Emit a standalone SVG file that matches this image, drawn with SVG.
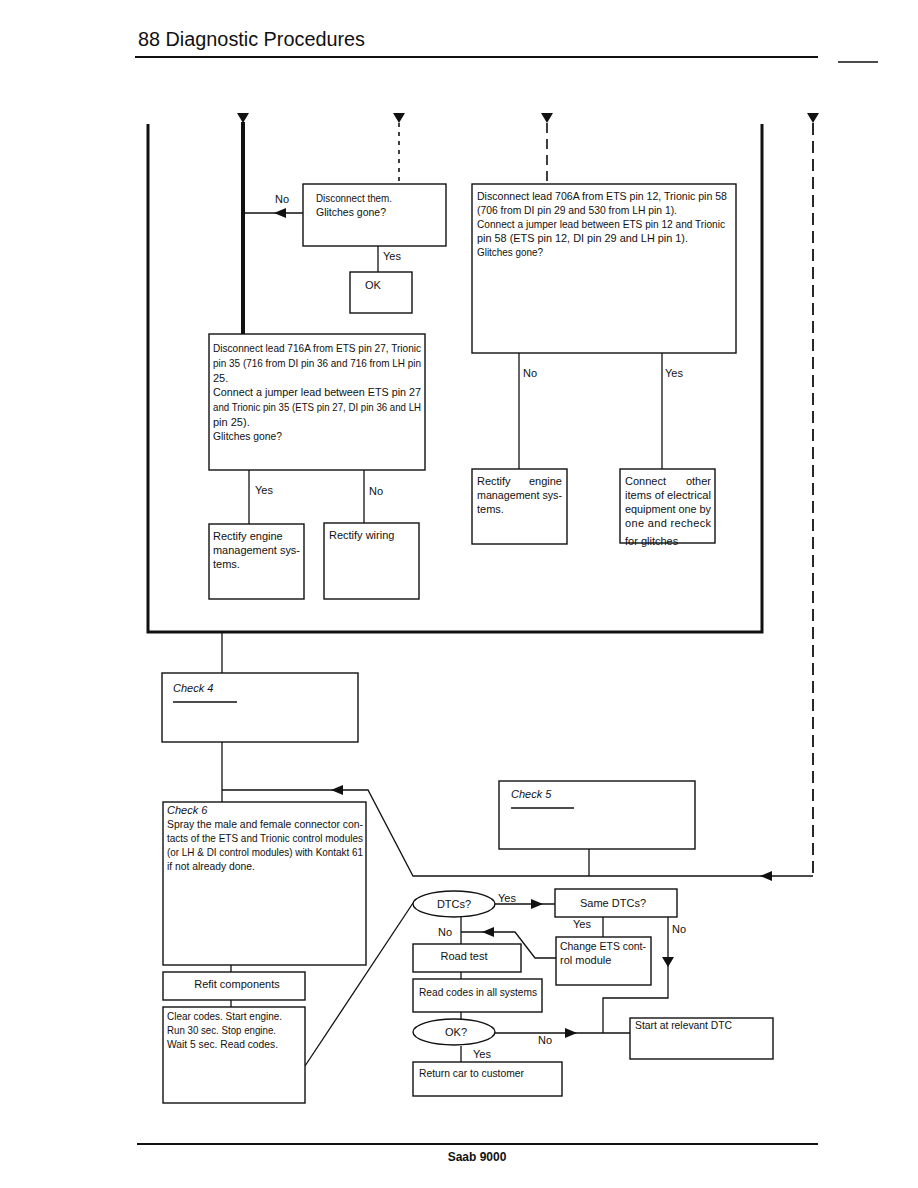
<svg xmlns="http://www.w3.org/2000/svg" xmlns:xlink="http://www.w3.org/1999/xlink" width="918" height="1188" viewBox="0 0 918 1188">
<style>
.bx{fill:#fff;stroke:#111;stroke-width:1.4}
.el{fill:#fff;stroke:#111;stroke-width:1.4}
.ln{fill:none;stroke:#111;stroke-width:1.3}
.fr{fill:none;stroke:#111;stroke-width:3}
.th{fill:none;stroke:#111;stroke-width:4}
.d1{fill:none;stroke:#111;stroke-width:1.6;stroke-dasharray:4 5}
.d2{fill:none;stroke:#111;stroke-width:1.6;stroke-dasharray:10 6}
.d3{fill:none;stroke:#111;stroke-width:1.8;stroke-dasharray:12 6}
.ah{fill:#111}
text{font-family:"Liberation Sans",Arial,Helvetica,sans-serif;font-size:11px;fill:#111}
.it{font-style:italic}
.c{text-anchor:middle}
.e{text-anchor:end}
.hd{font-size:20px}
.ft{font-size:12px;font-weight:bold}
</style>
<defs>
<path id="ad" d="M-6,0 L6,0 L0,10 Z"/>
<path id="al" d="M0,0 L12,-5 L12,5 Z"/>
<path id="ar" d="M0,0 L-12,-5 L-12,5 Z"/>
</defs>

<g id="header">
<text class="hd" x="138" y="46" textLength="227" lengthAdjust="spacingAndGlyphs">88 Diagnostic Procedures</text>
<path class="ln" d="M135,57 H818" style="stroke-width:1.8"/>
<path class="ln" d="M838,62 H878"/>
</g>

<g id="connectors">
<path class="fr" d="M148,124 V632 H762 V124"/>
<path class="th" d="M243,122 V334"/>
<path class="d1" d="M399,123 V184"/>
<path class="d2" d="M547,123 V184"/>
<path class="d3" d="M813,123 V876"/>
<path class="ln" d="M813,876 H413 L368,790 H222"/>
<path class="ln" d="M303,213 H243"/>
<path class="ln" d="M378,246 V272"/>
<path class="ln" d="M519,353 V469"/>
<path class="ln" d="M662,353 V469"/>
<path class="ln" d="M249,470 V524"/>
<path class="ln" d="M364,470 V523"/>
<path class="ln" d="M222,632 V673"/>
<path class="ln" d="M222,742 V802"/>
<path class="ln" d="M589,849 V876"/>
<path class="ln" d="M231,965 V972"/>
<path class="ln" d="M231,1000 V1007"/>
<path class="ln" d="M305,1066 L415,900"/>
<path class="ln" d="M495,904 H555"/>
<path class="ln" d="M461,917 V944"/>
<path class="ln" d="M556,958 H535 L515,932 H461"/>
<path class="ln" d="M603,917 V937"/>
<path class="ln" d="M668,917 V998 H603 V1033"/>
<path class="ln" d="M461,972 V979"/>
<path class="ln" d="M461,1012 V1019"/>
<path class="ln" d="M495,1033 H630"/>
<path class="ln" d="M461,1046 V1062"/>
<use href="#ad" class="ah" x="243" y="113"/>
<use href="#ad" class="ah" x="399" y="113"/>
<use href="#ad" class="ah" x="547" y="113"/>
<use href="#ad" class="ah" x="813" y="113"/>
<use href="#al" class="ah" x="274" y="213"/>
<use href="#al" class="ah" x="331" y="790"/>
<use href="#al" class="ah" x="760" y="876"/>
<use href="#ar" class="ah" x="543" y="904"/>
<use href="#al" class="ah" x="482" y="932"/>
<use href="#ad" class="ah" x="668" y="957"/>
<use href="#ar" class="ah" x="577" y="1033"/>
<text x="275" y="203">No</text>
<text x="383" y="260">Yes</text>
<text x="523" y="377">No</text>
<text x="665" y="377">Yes</text>
<text x="255" y="494">Yes</text>
<text x="369" y="495">No</text>
<text x="498" y="902">Yes</text>
<text x="573" y="928">Yes</text>
<text x="672" y="933">No</text>
<text x="438" y="936">No</text>
<text x="538" y="1044">No</text>
<text x="473" y="1058">Yes</text>
</g>

<g id="n_disconnect_them">
<rect class="bx" x="303" y="184" width="143" height="62"/>
<text x="316" y="202" textLength="76" lengthAdjust="spacingAndGlyphs">Disconnect them.</text>
<text x="316" y="216" textLength="70" lengthAdjust="spacingAndGlyphs">Glitches gone?</text>
</g>
<g id="n_ok">
<rect class="bx" x="350" y="272" width="62" height="41"/>
<text x="365" y="289">OK</text>
</g>
<g id="n_706a">
<rect class="bx" x="472" y="184" width="264" height="169"/>
<text x="477" y="200" textLength="250" lengthAdjust="spacingAndGlyphs">Disconnect lead 706A from ETS pin 12, Trionic pin 58</text>
<text x="477" y="214" textLength="200" lengthAdjust="spacingAndGlyphs">(706 from DI pin 29 and 530 from LH pin 1).</text>
<text x="477" y="228" textLength="248" lengthAdjust="spacingAndGlyphs">Connect a jumper lead between ETS pin 12 and Trionic</text>
<text x="477" y="242" textLength="211" lengthAdjust="spacingAndGlyphs">pin 58 (ETS pin 12, DI pin 29 and LH pin 1).</text>
<text x="477" y="256" textLength="66" lengthAdjust="spacingAndGlyphs">Glitches gone?</text>
</g>
<g id="n_716a">
<rect class="bx" x="209" y="334" width="216" height="136"/>
<text x="213" y="352" textLength="208" lengthAdjust="spacingAndGlyphs">Disconnect lead 716A from ETS pin 27, Trionic</text>
<text x="213" y="367" textLength="208" lengthAdjust="spacingAndGlyphs">pin 35 (716 from DI pin 36 and 716 from LH pin</text>
<text x="213" y="382">25.</text>
<text x="213" y="396" textLength="208" lengthAdjust="spacingAndGlyphs">Connect a jumper lead between ETS pin 27</text>
<text x="213" y="411" textLength="208" lengthAdjust="spacingAndGlyphs">and Trionic pin 35 (ETS pin 27, DI pin 36 and LH</text>
<text x="213" y="426">pin 25).</text>
<text x="213" y="440" textLength="69" lengthAdjust="spacingAndGlyphs">Glitches gone?</text>
</g>
<g id="n_rectify_engine_1">
<rect class="bx" x="209" y="524" width="95" height="75"/>
<text x="213" y="540">Rectify engine</text>
<text x="213" y="554" textLength="87" lengthAdjust="spacingAndGlyphs">management sys-</text>
<text x="213" y="568">tems.</text>
</g>
<g id="n_rectify_wiring">
<rect class="bx" x="324" y="523" width="95" height="76"/>
<text x="329" y="539">Rectify wiring</text>
</g>
<g id="n_rectify_engine_2">
<rect class="bx" x="472" y="469" width="95" height="75"/>
<text x="477" y="485">Rectify</text>
<text class="e" x="562" y="485">engine</text>
<text x="477" y="499" textLength="85" lengthAdjust="spacingAndGlyphs">management sys-</text>
<text x="477" y="513">tems.</text>
</g>
<g id="n_connect_other">
<rect class="bx" x="620" y="469" width="95" height="74"/>
<text x="625" y="485">Connect</text>
<text class="e" x="711" y="485">other</text>
<text x="625" y="499" textLength="86" lengthAdjust="spacingAndGlyphs">items of electrical</text>
<text x="625" y="513" textLength="86" lengthAdjust="spacingAndGlyphs">equipment one by</text>
<text x="625" y="527" textLength="86" lengthAdjust="spacing">one and recheck</text>
<text x="625" y="545">for glitches</text>
</g>
<g id="n_check4">
<rect class="bx" x="162" y="673" width="196" height="69"/>
<text class="it" x="173" y="692">Check 4</text>
<path class="ln" d="M173,702 H237"/>
</g>
<g id="n_check6">
<rect class="bx" x="163" y="802" width="203" height="163"/>
<text class="it" x="167" y="814">Check 6</text>
<text x="167" y="828" textLength="196" lengthAdjust="spacingAndGlyphs">Spray the male and female connector con-</text>
<text x="167" y="842" textLength="196" lengthAdjust="spacingAndGlyphs">tacts of the ETS and Trionic control modules</text>
<text x="167" y="856" textLength="196" lengthAdjust="spacingAndGlyphs">(or LH &amp; DI control modules) with Kontakt 61</text>
<text x="167" y="870" textLength="88" lengthAdjust="spacingAndGlyphs">if not already done.</text>
</g>
<g id="n_refit">
<rect class="bx" x="163" y="972" width="142" height="28"/>
<text class="c" x="237" y="988">Refit components</text>
</g>
<g id="n_clear_codes">
<rect class="bx" x="163" y="1007" width="142" height="96"/>
<text x="167" y="1020" textLength="115" lengthAdjust="spacingAndGlyphs">Clear codes. Start engine.</text>
<text x="167" y="1034" textLength="109" lengthAdjust="spacingAndGlyphs">Run 30 sec. Stop engine.</text>
<text x="167" y="1048" textLength="111" lengthAdjust="spacingAndGlyphs">Wait 5 sec. Read codes.</text>
</g>
<g id="n_check5">
<rect class="bx" x="499" y="781" width="196" height="68"/>
<text class="it" x="511" y="798">Check 5</text>
<path class="ln" d="M511,808 H574"/>
</g>
<g id="n_dtcs">
<ellipse class="el" cx="454" cy="904" rx="41" ry="13"/>
<text class="c" x="454" y="908">DTCs?</text>
</g>
<g id="n_same_dtcs">
<rect class="bx" x="555" y="889" width="122" height="28"/>
<text class="c" x="613" y="907">Same DTCs?</text>
</g>
<g id="n_change_ets">
<rect class="bx" x="556" y="937" width="95" height="48"/>
<text x="560" y="950" textLength="86" lengthAdjust="spacingAndGlyphs">Change ETS cont-</text>
<text x="560" y="964">rol module</text>
</g>
<g id="n_road_test">
<rect class="bx" x="413" y="944" width="108" height="28"/>
<text class="c" x="464" y="960">Road test</text>
</g>
<g id="n_read_codes">
<rect class="bx" x="413" y="979" width="129" height="33"/>
<text x="419" y="996" textLength="118" lengthAdjust="spacingAndGlyphs">Read codes in all systems</text>
</g>
<g id="n_okq">
<ellipse class="el" cx="454" cy="1032" rx="41" ry="13"/>
<text class="c" x="456" y="1036">OK?</text>
</g>
<g id="n_start_dtc">
<rect class="bx" x="630" y="1018" width="143" height="41"/>
<text x="635" y="1029" textLength="97" lengthAdjust="spacingAndGlyphs">Start at relevant DTC</text>
</g>
<g id="n_return">
<rect class="bx" x="413" y="1062" width="149" height="34"/>
<text x="419" y="1077" textLength="105" lengthAdjust="spacingAndGlyphs">Return car to customer</text>
</g>

<g id="footer">
<path class="ln" d="M137,1144 H818" style="stroke-width:1.8"/>
<text class="ft c" x="477" y="1161">Saab 9000</text>
</g>
</svg>
